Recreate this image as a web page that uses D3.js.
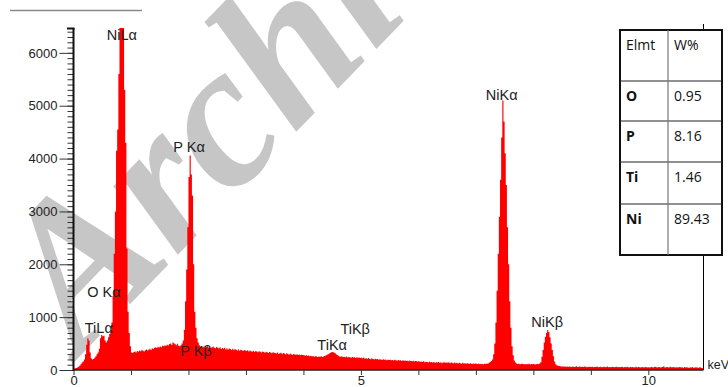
<!DOCTYPE html>
<html>
<head>
<meta charset="utf-8">
<script src="https://cdn.jsdelivr.net/npm/d3@7"></script>
<style>
  body { margin: 0; background: #fff; }
  svg { display: block; }
  .tick text { font-family: "Liberation Sans", Arial, sans-serif; font-size: 13px; fill: #222; }
  .peak { font-family: "Liberation Sans", Arial, sans-serif; font-size: 14.5px; fill: #222; }
  .tbl { font-family: "Open Sans", "Noto Sans", sans-serif; font-size: 14px; fill: #111; }
</style>
</head>
<body>
<div class="eds"></div>
<script>
// EDS spectrum, counts per 0.02 keV channel, one row = 0.5 keV
const channelKeV = 0.02;
const counts = [
  30,35,40,45,60,80,110,140,160,200,300,480,600,560,330,220,200,210,230,260,300,330,400,600,660,
  640,650,560,520,560,620,680,720,900,1400,2200,3000,4150,4550,5600,6470,6470,6470,6470,5300,4300,2300,1100,700,450,
  330,320,340,350,330,360,345,370,355,380,365,350,375,390,370,385,400,380,410,395,420,430,415,440,425,
  445,430,460,450,470,455,480,465,490,500,475,520,505,485,470,495,460,450,470,500,560,760,1300,1900,2700,
  3650,4060,3700,3300,2000,1100,800,600,520,470,440,455,430,445,420,435,450,425,440,415,430,445,420,410,435,
  420,405,430,395,415,400,420,390,410,385,405,395,380,400,375,395,385,370,390,365,385,375,360,380,370,
  360,375,350,370,355,345,365,340,360,350,335,355,345,330,350,340,325,345,335,320,340,330,315,335,325,
  320,310,330,305,315,325,300,320,310,295,315,305,290,310,300,285,305,295,290,300,285,295,280,290,285,
  280,270,285,265,275,260,270,255,265,250,260,255,245,255,250,260,245,255,265,275,290,300,310,325,335,
  340,330,320,300,285,270,255,250,260,245,250,240,255,235,245,240,230,245,235,240,225,240,230,235,225,
  230,220,235,215,225,210,225,215,205,220,210,200,215,205,210,195,205,200,190,205,195,200,185,195,190,
  195,185,190,180,195,185,175,190,180,185,170,185,175,180,170,175,165,180,170,165,175,160,170,165,160,
  165,155,160,150,165,145,155,150,140,155,145,150,140,150,135,145,140,150,135,145,130,140,145,135,140,
  135,145,130,140,135,125,140,130,135,125,135,130,120,135,125,130,120,130,125,120,130,115,125,120,125,
  120,115,125,110,120,115,110,120,115,125,120,135,150,170,200,300,500,900,1500,2200,2900,3600,4400,5100,4700,
  4100,3500,2700,2000,1300,800,450,280,180,140,125,115,120,110,115,120,110,115,105,115,110,120,105,115,110,
  115,105,110,120,110,125,145,250,380,520,630,700,756,720,620,500,380,260,160,110,90,80,75,70,65,
  65,60,70,55,65,60,65,55,60,65,55,60,70,55,60,65,55,60,55,65,60,50,60,55,60,
  55,60,50,60,55,65,50,55,60,50,55,60,50,55,65,50,55,50,60,55,50,55,60,50,55,
  50,55,60,45,55,50,60,50,45,55,50,55,45,50,60,45,55,50,45,55,50,45,55,50,45,
  50,45,55,50,45,55,60,45,50,55,45,50,55,70,45,50,55,45,50,60,45,55,50,45,50,
  45,50,55,45,50,40,55,45,50,45,40,50,45,55,40,45,50,45,40,50,45,40,35
];

// peak labels: line name, keV, count level of the text baseline
const peakNames  = ['NiL\u03b1', 'O K\u03b1', 'TiL\u03b1', 'P K\u03b1', 'P K\u03b2', 'TiK\u03b1', 'TiK\u03b2', 'NiK\u03b1', 'NiK\u03b2'];
const peakKeV    = [0.84, 0.53, 0.44, 2.01, 2.13, 4.5, 4.9, 7.45, 8.24];
const peakLevels = [6240, 1380, 700, 4120, 265, 378, 680, 5100, 813];

const yMajorTicks = [0, 1000, 2000, 3000, 4000, 5000, 6000];
const xTicks = [0, 1, 2, 3, 4, 5, 6, 7, 8, 9, 10];
const xLabelled = [0, 5, 10];

// composition table
const tableHead = ['Elmt', 'W%'];
const elements  = ['O', 'P', 'Ti', 'Ni'];
const weightPct = ['0.95', '8.16', '1.46', '89.43'];

const width = 728, height = 387;
const yMax = 6470;
const keVMax = counts.length * channelKeV;

const svg = d3.select('.eds').append('svg')
    .attr('width', width).attr('height', height);

const x = d3.scaleLinear().domain([0, keVMax]).range([73.5, 703.5]);
const y = d3.scaleLinear().domain([0, yMax]).range([370, 28]);

// watermark behind everything
svg.append('text')
    .attr('transform', 'translate(80,356) rotate(-46)')
    .style('font-family', '"Liberation Serif", "Times New Roman", serif')
    .style('font-weight', 'bold').style('font-style', 'italic')
    .style('font-size', '205px').style('fill', '#c6c6c6')
    .text('Archive');

// little rule top left
svg.append('line')
    .attr('x1', 10).attr('x2', 142).attr('y1', 10.5).attr('y2', 10.5)
    .style('stroke', '#8a8a8a').style('stroke-width', 1.5);

// spectrum
const pts = counts.map((c, i) => ({k: i * channelKeV, c: Math.min(c, yMax)}));
pts.push({k: keVMax, c: 0});
const area = d3.area()
    .x(d => x(d.k))
    .y0(y(0))
    .y1(d => y(d.c))
    .curve(d3.curveStepAfter);
svg.append('path').datum(pts)
    .attr('d', area)
    .style('fill', '#ff0000');

// right frame line
svg.append('line')
    .attr('x1', x(keVMax)).attr('x2', x(keVMax)).attr('y1', 24).attr('y2', 370)
    .style('stroke', '#000').style('stroke-width', 1);

// y axis: minor every 100, major every 1000
const yMinor = d3.axisLeft(y).tickValues(d3.range(0, yMax, 100)).tickSize(6).tickFormat('');
svg.append('g').attr('class', 'y minor').attr('transform', 'translate(73.5,0)').call(yMinor)
    .call(g => g.select('.domain').remove())
    .selectAll('line').style('stroke', '#333');
const yAxis = d3.axisLeft(y).tickValues(yMajorTicks).tickSize(14).tickPadding(2).tickFormat(d3.format('d'));
svg.append('g').attr('class', 'y axis').attr('transform', 'translate(73.5,0)').call(yAxis)
    .call(g => g.select('.domain').remove())
    .selectAll('line').style('stroke', '#333');
svg.append('line')
    .attr('x1', 73.5).attr('x2', 73.5).attr('y1', y(yMax)).attr('y2', 371)
    .style('stroke', '#111').style('stroke-width', 2);
svg.append('line')
    .attr('x1', 67).attr('x2', 74.5).attr('y1', y(yMax) + 0.5).attr('y2', y(yMax) + 0.5)
    .style('stroke', '#111').style('stroke-width', 2);

// x axis
const xAxis = d3.axisBottom(x).tickValues(xTicks).tickSize(5).tickPadding(1)
    .tickFormat(d => xLabelled.includes(d) ? d : '');
svg.append('g').attr('class', 'x axis').attr('transform', 'translate(0,370)').call(xAxis)
    .call(g => g.select('.domain').attr('d', `M${x(0)},0H${x(keVMax)}`).style('stroke', '#222').style('stroke-width', 1.5))
    .selectAll('line').style('stroke', '#333');

svg.append('text')
    .attr('x', x(keVMax) + 4).attr('y', 369)
    .attr('class', 'peak').style('font-size', '12.5px')
    .text('keV');

// peak labels
svg.selectAll('.peak-label')
    .data(peakNames)
    .enter()
    .append('text')
    .attr('class', 'peak peak-label')
    .attr('x', (d, i) => x(peakKeV[i]))
    .attr('y', (d, i) => y(peakLevels[i]))
    .attr('text-anchor', 'middle')
    .text(d => d);

// table
const tLeft = 620, tRight = 722, tMid = 668;
const rowEdges = [30, 81, 121, 162, 204, 255];
const tbl = svg.append('g').attr('class', 'table');
tbl.append('rect')
    .attr('x', tLeft).attr('y', rowEdges[0])
    .attr('width', tRight - tLeft).attr('height', rowEdges[5] - rowEdges[0])
    .style('fill', '#fff').style('stroke', '#111').style('stroke-width', 2);
tbl.selectAll('.rowline')
    .data(rowEdges.slice(1, -1))
    .enter().append('line')
    .attr('x1', tLeft).attr('x2', tRight)
    .attr('y1', d => d).attr('y2', d => d)
    .style('stroke', '#222').style('stroke-width', 1);
tbl.append('line')
    .attr('x1', tMid).attr('x2', tMid).attr('y1', rowEdges[0]).attr('y2', rowEdges[5])
    .style('stroke', '#777').style('stroke-width', 1.2);

const rows = [tableHead].concat(elements.map((e, i) => [e, weightPct[i]]));
rows.forEach((r, i) => {
    const ty = rowEdges[i] + 20;
    tbl.append('text').attr('class', 'tbl')
        .attr('x', tLeft + 6).attr('y', ty)
        .style('font-weight', i === 0 ? 'normal' : 'bold')
        .text(r[0]);
    tbl.append('text').attr('class', 'tbl')
        .attr('x', tMid + 6).attr('y', ty)
        .text(r[1]);
});
</script>
</body>
</html>
